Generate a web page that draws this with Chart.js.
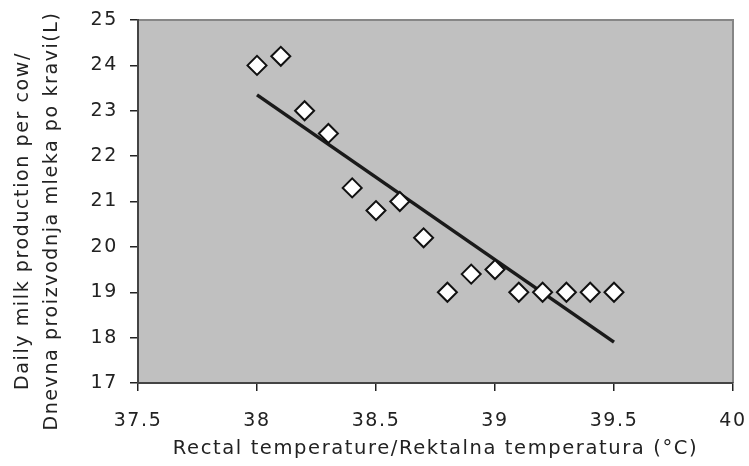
<!DOCTYPE html>
<html lang="en">
<head>
  <meta charset="UTF-8">
  <title>Milk production vs rectal temperature</title>
  <script src="https://cdn.jsdelivr.net/npm/chart.js"></script>
  <style>
    body {
      margin: 0;
      padding: 0;
      background: #ffffff;
    }
    #wrap {
      width: 749px;
      height: 466px;
    }
  </style>
</head>
<body>

<div id="wrap">
  <canvas id="milkChart" width="749" height="466"></canvas>
</div>

<script>
  // values
  const temperature = [38, 38.1, 38.2, 38.3, 38.4, 38.5, 38.6, 38.7, 38.8, 38.9, 39, 39.1, 39.2, 39.3, 39.4, 39.5];
  const milkPerCow = [24, 24.2, 23, 22.5, 21.3, 20.8, 21, 20.2, 19, 19.4, 19.5, 19, 19, 19, 19, 19];
  const trendX = [38, 39.5];
  const trendY = [23.35, 17.9];

  const xTitle = 'Rectal temperature/Rektalna temperatura (°C)';
  const yTitle = ['Daily milk production per cow/', 'Dnevna proizvodnja mleka po kravi(L)'];

  const FONT = "'DejaVu Sans', Verdana, sans-serif";
  const SPACING = '1.6px'; // the original lettering is quite wide

  // widen the lettering a bit (set again after Chart.js resizes the canvas)
  const wideText = {
    id: 'wideText',
    beforeLayout(chart) { chart.ctx.letterSpacing = SPACING; },
    beforeDraw(chart) { chart.ctx.letterSpacing = SPACING; }
  };

  // grey plot area with light frame on top and right
  const plotBackground = {
    id: 'plotBackground',
    beforeDraw(chart) {
      const { ctx, chartArea: a } = chart;
      ctx.save();
      ctx.fillStyle = '#c0c0c0';
      ctx.fillRect(a.left, a.top, a.right - a.left, a.bottom - a.top);
      ctx.strokeStyle = '#868686';
      ctx.lineWidth = 2;
      ctx.beginPath();
      ctx.moveTo(a.left, a.top);
      ctx.lineTo(a.right, a.top);
      ctx.lineTo(a.right, a.bottom);
      ctx.stroke();
      ctx.restore();
    }
  };

  // y axis title, two lines, sits a little below the axis middle
  const yAxisTitle = {
    id: 'yAxisTitle',
    afterDraw(chart) {
      const { ctx } = chart;
      ctx.save();
      ctx.translate(0, 221);
      ctx.rotate(-Math.PI / 2);
      ctx.fillStyle = '#222222';
      ctx.font = '19px ' + FONT;
      ctx.letterSpacing = SPACING;
      ctx.textAlign = 'center';
      ctx.textBaseline = 'middle';
      ctx.fillText(yTitle[0], 0, 23);
      ctx.fillText(yTitle[1], 0, 52);
      ctx.restore();
    }
  };

  const ctx = document.getElementById('milkChart').getContext('2d');

  new Chart(ctx, {
    type: 'scatter',
    data: {
      datasets: [
        {
          label: 'Milk',
          data: temperature.map((t, i) => ({ x: t, y: milkPerCow[i] })),
          pointStyle: 'rectRot',
          pointRadius: 9.5,
          pointHoverRadius: 9.5,
          pointBackgroundColor: '#ffffff',
          pointBorderColor: '#111111',
          pointBorderWidth: 2,
          order: 1
        },
        {
          type: 'line',
          label: 'Trend',
          data: trendX.map((t, i) => ({ x: t, y: trendY[i] })),
          borderColor: '#1a1a1a',
          borderWidth: 3.5,
          pointRadius: 0,
          fill: false,
          order: 2
        }
      ]
    },
    options: {
      responsive: false,
      animation: false,
      layout: {
        padding: { top: 20, right: 16, left: 0, bottom: 0 }
      },
      plugins: {
        legend: { display: false },
        tooltip: { enabled: false }
      },
      scales: {
        x: {
          type: 'linear',
          min: 37.5,
          max: 40,
          ticks: {
            stepSize: 0.5,
            padding: 19,
            color: '#222222',
            font: { family: FONT, size: 19 },
            callback: v => String(v)
          },
          grid: {
            drawOnChartArea: false,
            drawTicks: true,
            tickLength: 8,
            color: '#222222',
            lineWidth: 1.5
          },
          border: { color: '#444444', width: 2 },
          title: {
            display: true,
            text: xTitle,
            color: '#222222',
            font: { family: FONT, size: 19.5 },
            padding: { top: 4, bottom: 5 }
          },
          afterFit(scale) {
            scale.height = 83;
            scale.paddingRight = 0;
          }
        },
        y: {
          min: 17,
          max: 25,
          ticks: {
            stepSize: 1,
            padding: 12,
            color: '#222222',
            font: { family: FONT, size: 19 },
            callback: v => String(v)
          },
          grid: {
            drawOnChartArea: false,
            drawTicks: true,
            tickLength: 8,
            color: '#222222',
            lineWidth: 1.5
          },
          border: { color: '#444444', width: 2 },
          afterFit(scale) {
            scale.width = 138;
            scale.paddingTop = 0;
            scale.paddingBottom = 0;
          }
        }
      }
    },
    plugins: [wideText, plotBackground, yAxisTitle]
  });
</script>

</body>
</html>
